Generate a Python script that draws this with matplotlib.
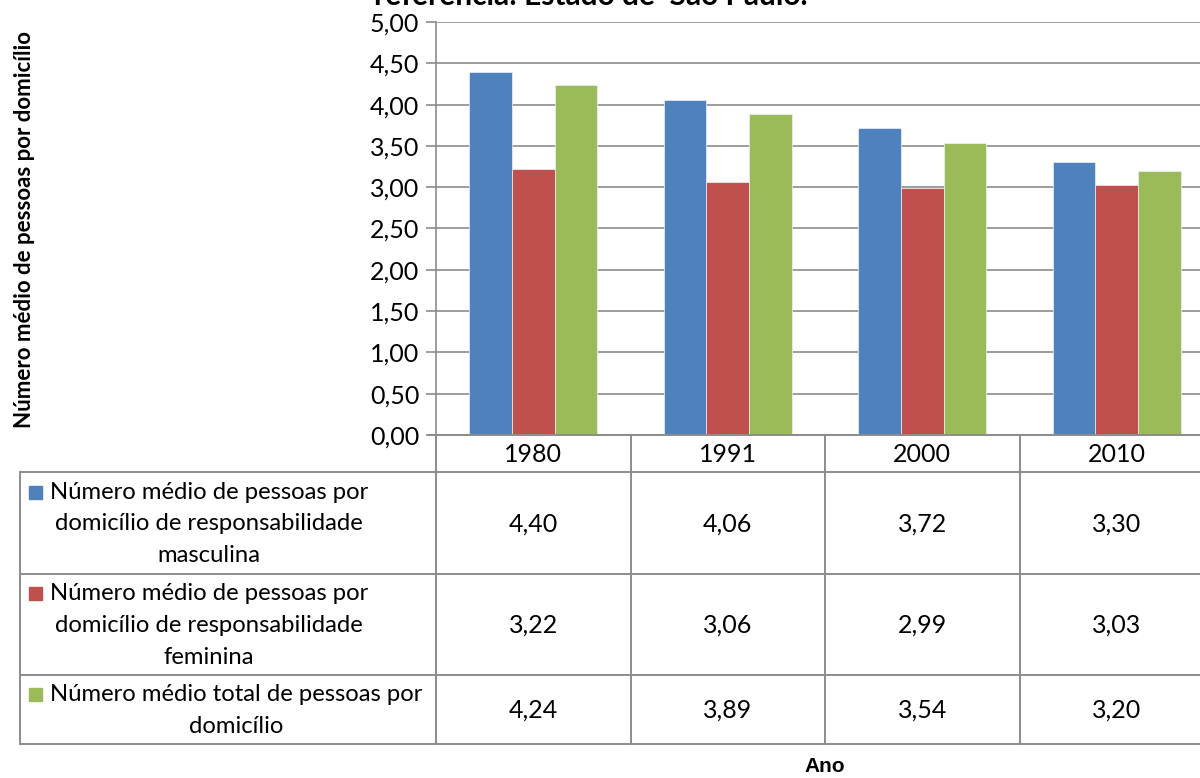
import matplotlib
matplotlib.use("Agg")
import matplotlib.pyplot as plt
from matplotlib.lines import Line2D
from matplotlib.patches import Rectangle

# Data
years = ["1980", "1991", "2000", "2010"]
series_names = [
    ["Número médio de pessoas por", "domicílio de responsabilidade", "masculina"],
    ["Número médio de pessoas por", "domicílio de responsabilidade", "feminina"],
    ["Número médio total de pessoas por", "domicílio"],
]
masculina = [4.40, 4.06, 3.72, 3.30]
feminina = [3.22, 3.06, 2.99, 3.03]
total = [4.24, 3.89, 3.54, 3.20]
series_values = [masculina, feminina, total]
colors = ["#4F81BD", "#C0504D", "#9BBB59"]
y_ticks = [0, 0.5, 1.0, 1.5, 2.0, 2.5, 3.0, 3.5, 4.0, 4.5, 5.0]

W, H = 1200, 778
FONT = "Lato"
FS = 17.2      # series names
FS_NUM = 18    # numbers and years
grid_col = "#8C8C8C"

fig = plt.figure(figsize=(W / 100, H / 100), dpi=100)


def fx(px):
    return px / W


def fy(py):
    return 1 - py / H


def fmt(v):
    return f"{v:.2f}".replace(".", ",")


# plot area (extends a little past the right edge of the figure)
ax_left, ax_right, ax_top, ax_bottom = 436, 1214, 22, 435
ax = fig.add_axes([fx(ax_left), fy(ax_bottom), fx(ax_right - ax_left), (ax_bottom - ax_top) / H])

n = len(years)
bar_w = 0.22
for i, (vals, col) in enumerate(zip(series_values, colors)):
    xs = [k + (i - 1) * bar_w for k in range(n)]
    ax.bar(xs, vals, width=bar_w, color=col, edgecolor="#EEF2F8", linewidth=0.5, zorder=3)

ax.set_xlim(-0.5, n - 0.5)
ax.set_ylim(0, 5)
ax.set_yticks(y_ticks)
ax.set_yticklabels([fmt(v) for v in y_ticks], fontsize=FS_NUM, family=FONT)
ax.set_xticks([])
ax.yaxis.grid(True, color=grid_col, linewidth=1.2, zorder=0)
ax.tick_params(axis="y", length=7, width=1.2, color=grid_col, pad=5)
for s in ["top", "right", "bottom"]:
    ax.spines[s].set_visible(False)
ax.spines["left"].set_color(grid_col)
ax.spines["left"].set_linewidth(1.2)

# data table
col_w = 194.5
row_lines = [472, 574, 675, 744]
tab_left = 20


def hline(y, x0, x1):
    fig.add_artist(Line2D([fx(x0), fx(x1)], [fy(y), fy(y)], color=grid_col, lw=1.4))


def vline(x, y0, y1):
    fig.add_artist(Line2D([fx(x), fx(x)], [fy(y0), fy(y1)], color=grid_col, lw=1.4))


hline(ax_bottom, 429, W + 5)
for y in row_lines:
    hline(y, tab_left, W + 5)
vline(tab_left, row_lines[0], row_lines[-1])
for k in range(n):
    vline(ax_left + k * col_w, ax_bottom, row_lines[-1])

for k, yr in enumerate(years):
    cx = ax_left + (k + 0.5) * col_w
    fig.text(fx(cx), fy((ax_bottom + row_lines[0]) / 2 + 1), yr, ha="center", va="center",
             fontsize=FS_NUM, family=FONT)

renderer = fig.canvas.get_renderer()
line_h = 31.5
for r, (lines, vals, col) in enumerate(zip(series_names, series_values, colors)):
    y0, y1 = row_lines[r], row_lines[r + 1]
    cy = (y0 + y1) / 2
    for k, v in enumerate(vals):
        cx = ax_left + (k + 0.5) * col_w
        fig.text(fx(cx), fy(cy + 1), fmt(v), ha="center", va="center",
                 fontsize=FS_NUM, family=FONT)
    # series name: first line follows the legend key, the rest centred under it
    first_y = cy - (len(lines) - 1) * line_h / 2
    t0 = fig.text(fx(50), fy(first_y + 1), lines[0], ha="left", va="center",
                  fontsize=FS, family=FONT)
    w0 = t0.get_window_extent(renderer).width
    block_cx = 50 + w0 / 2
    for j, ln in enumerate(lines[1:], start=1):
        fig.text(fx(block_cx), fy(first_y + j * line_h + 1), ln, ha="center", va="center",
                 fontsize=FS, family=FONT)
    fig.add_artist(Rectangle((fx(29), fy(first_y + 7)), 13 / W, 13 / H, color=col,
                             transform=fig.transFigure))

# titles
fig.text(fx(591), fy(5), "referência: Estado de  São Paulo.", ha="center", va="baseline",
         fontsize=21.5, fontweight="bold", family=FONT)
fig.text(fx(25), fy(229), "Número médio de pessoas por domicílio", rotation=90,
         ha="center", va="center", fontsize=16, fontweight="bold", family=FONT)
fig.text(fx(825), fy(767), "Ano", ha="center", va="center", fontsize=15,
         fontweight="bold", family="Liberation Sans")

fig.savefig("out.png", dpi=100)
